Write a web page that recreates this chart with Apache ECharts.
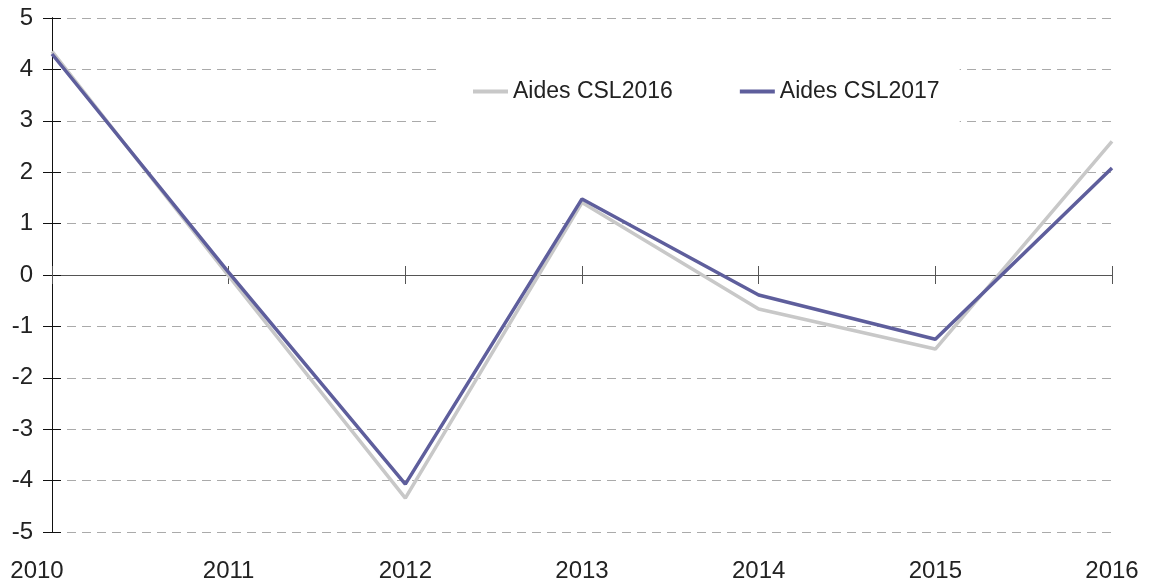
<!DOCTYPE html>
<html>
    <head>
        <meta charset="utf-8">
        <title>Aides CSL</title>
        <style>
            html, body { margin: 0; padding: 0; background: #fff; }
            #chart1 { width: 1149px; height: 587px; }
        </style>
    </head>
    <body>
        <div id="chart1"></div>
    </body>
    <script src="https://cdn.jsdelivr.net/npm/echarts@6/dist/echarts.min.js"></script>
    <script type="text/javascript">
        // données
        var years = ['2010', '2011', '2012', '2013', '2014', '2015', '2016'];
        var aidesCsl2016 = [4.35, -0.02, -4.34, 1.41, -0.66, -1.44, 2.6];
        var aidesCsl2017 = [4.3, 0.05, -4.07, 1.48, -0.39, -1.25, 2.08];
        var yTicks = [-5, -4, -3, -2, -1, 0, 1, 2, 3, 4, 5];

        var font = 'Liberation Sans, Arial, sans-serif';
        var grille = { left: 52, right: 37, top: 18, bottom: 55 };

        // axe horizontal posé sur zéro (une grille par sens de graduation)
        function axeZero(grid, inside) {
            return {
                type: 'category', data: years, gridIndex: grid, boundaryGap: false,
                position: 'bottom',
                axisLine: { onZero: true, lineStyle: { color: '#555', width: 1 } },
                axisTick: { inside: inside, length: 9, interval: 0, lineStyle: { color: '#555' } },
                axisLabel: { show: false },
                splitLine: { show: false }
            };
        }
        function axeVertical(grid, inside) {
            return {
                type: 'value', gridIndex: grid,
                min: yTicks[0], max: yTicks[yTicks.length - 1], interval: 1,
                axisLine: { show: true, lineStyle: { color: '#111' } },
                axisTick: { show: true, inside: inside, length: 9, lineStyle: { color: '#111' } },
                axisLabel: { show: false },
                splitLine: { show: false }
            };
        }

        var myChart1 = echarts.init(document.getElementById('chart1'));

        var yPrincipal = axeVertical(0, false);
        yPrincipal.axisLabel = { show: true, fontSize: 24, color: '#222', margin: 19 };
        yPrincipal.splitLine = { show: true, lineStyle: { color: '#aaa', type: [9, 6], width: 1 } };

        myChart1.setOption({
            animation: false,
            textStyle: { fontFamily: font },
            grid: [
                Object.assign({}, grille),
                Object.assign({}, grille),
                Object.assign({}, grille)
            ],
            legend: {
                data: ['Aides CSL2016', 'Aides CSL2017'],
                left: 440,
                top: 55,
                padding: [25, 20, 25, 33],
                backgroundColor: '#fff',
                icon: 'rect',
                itemWidth: 35,
                itemHeight: 4,
                itemGap: 67,
                textStyle: { fontSize: 23, color: '#222', fontFamily: font }
            },
            xAxis: [
                // libellés en bas
                {
                    type: 'category', data: years, gridIndex: 0, boundaryGap: false,
                    position: 'bottom',
                    axisLine: { show: false, onZero: false },
                    axisTick: { show: false },
                    splitLine: { show: false },
                    axisLabel: {
                        fontSize: 24, color: '#222', margin: 27, interval: 0,
                        formatter: function (v, i) { return i === 0 ? '{a|' + v + '}' : v; },
                        rich: { a: { fontSize: 24, color: '#222', padding: [0, 30, 0, 0] } }
                    }
                },
                axeZero(1, false),
                axeZero(2, true)
            ],
            yAxis: [
                yPrincipal,
                axeVertical(1, true),
                axeVertical(2, true)
            ],
            series: [
                {
                    name: 'Aides CSL2016',
                    type: 'line',
                    xAxisIndex: 0, yAxisIndex: 0,
                    data: aidesCsl2016,
                    symbol: 'none',
                    color: '#c8c8c8',
                    lineStyle: { color: '#c8c8c8', width: 3.5 },
                    z: 3
                },
                {
                    name: 'Aides CSL2017',
                    type: 'line',
                    xAxisIndex: 0, yAxisIndex: 0,
                    data: aidesCsl2017,
                    symbol: 'none',
                    color: '#5e5e9c',
                    lineStyle: { color: '#5e5e9c', width: 3.5 },
                    z: 4
                }
            ]
        });
    </script>
</html>
